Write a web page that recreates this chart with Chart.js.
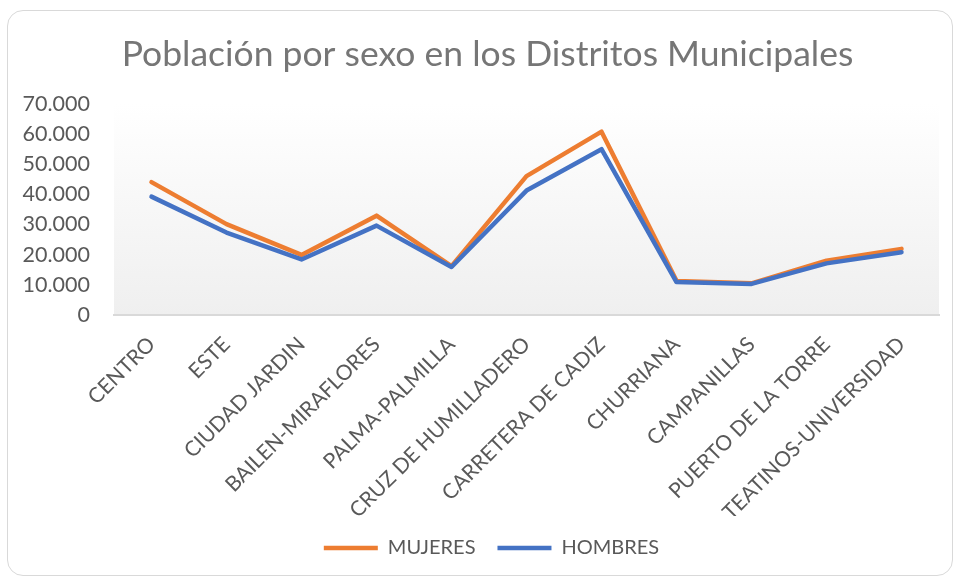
<!DOCTYPE html>
<html>
<head>
<meta charset="utf-8">
<script src="https://cdn.jsdelivr.net/npm/chart.js@4/dist/chart.umd.min.js"></script>
<style>
    body { margin: 0; background: #ffffff; }
    #frame {
        position: absolute; left: 7px; top: 10px;
        width: 944px; height: 564px;
        border: 1px solid #d9d9d9; border-radius: 16px;
    }
    #wrap { position: absolute; left: 0; top: 0; width: 956px; height: 579px; }
</style>
</head>
<body>
<div id="frame"></div>
<div id="wrap"><canvas id="chart" width="956" height="579"></canvas></div>
<script>
// Chart data
const distritos = [
    'CENTRO', 'ESTE', 'CIUDAD JARDIN', 'BAILEN-MIRAFLORES', 'PALMA-PALMILLA',
    'CRUZ DE HUMILLADERO', 'CARRETERA DE CADIZ', 'CHURRIANA', 'CAMPANILLAS',
    'PUERTO DE LA TORRE', 'TEATINOS-UNIVERSIDAD'
];
const mujeres = [44000, 30100, 19900, 32900, 16200, 46000, 60700, 11300, 10500, 18000, 21900];
const hombres = [39200, 27300, 18400, 29600, 15900, 41200, 54900, 10900, 10300, 17100, 20800];
const yTicks = { min: 0, max: 70000, step: 10000 };

const colors = { mujeres: '#ED7D31', hombres: '#4472C4', text: '#595959', title: '#767676' };
const fontFamily = 'Lato, "Open Sans", sans-serif';

// thousands separator with a dot
function formatMiles(v) {
    return String(v).replace(/\B(?=(\d{3})+(?!\d))/g, '.');
}

// plot area gradient, white at top to light grey at the bottom
const plotBackground = {
    id: 'plotBackground',
    beforeDraw(chart) {
        const { ctx, chartArea: a } = chart;
        const g = ctx.createLinearGradient(0, a.top, 0, a.bottom);
        g.addColorStop(0, '#ffffff');
        g.addColorStop(1, '#efefef');
        ctx.save();
        ctx.fillStyle = g;
        ctx.fillRect(a.left, a.top, a.right - a.left, a.bottom - a.top);
        ctx.restore();
    }
};

// title and legend are centred on the whole frame, not on the plot
const shiftBlocks = {
    id: 'shiftBlocks',
    afterLayout(chart) {
        if (chart.titleBlock) {
            chart.titleBlock.left += 18;
            chart.titleBlock.right += 18;
        }
        if (chart.legend) {
            chart.legend.left += 22;
            chart.legend.right += 22;
        }
    }
};

const padBottom = 11;

new Chart(document.getElementById('chart'), {
    type: 'line',
    data: {
        labels: distritos,
        datasets: [
            {
                label: 'MUJERES',
                data: mujeres,
                borderColor: colors.mujeres,
                backgroundColor: colors.mujeres,
                borderWidth: 4.5,
                order: 1
            },
            {
                label: 'HOMBRES',
                data: hombres,
                borderColor: colors.hombres,
                backgroundColor: colors.hombres,
                borderWidth: 4.5,
                order: 0
            }
        ]
    },
    options: {
        responsive: false,
        animation: false,
        devicePixelRatio: 1,
        layout: { padding: { top: 0, left: 0, right: 17, bottom: padBottom } },
        elements: {
            line: { tension: 0, borderJoinStyle: 'round', borderCapStyle: 'round', fill: false },
            point: { radius: 0, hoverRadius: 0 }
        },
        plugins: {
            title: {
                display: true,
                text: 'Población por sexo en los Distritos Municipales',
                color: colors.title,
                font: { family: fontFamily, size: 35.5, weight: 'normal' },
                padding: { top: 33, bottom: 28 }
            },
            legend: {
                display: true,
                position: 'bottom',
                labels: {
                    usePointStyle: true,
                    pointStyle: 'line',
                    pointStyleWidth: 54,
                    boxWidth: 54,
                    padding: 22,
                    color: colors.text,
                    font: { family: fontFamily, size: 20 },
                    sort: (a, b) => a.datasetIndex - b.datasetIndex
                }
            },
            tooltip: { enabled: false }
        },
        scales: {
            x: {
                offset: true,
                grid: { display: false, drawTicks: false },
                border: { display: true, color: '#d9d9d9', width: 2 },
                ticks: {
                    minRotation: 45,
                    maxRotation: 45,
                    padding: 17,
                    color: colors.text,
                    font: { family: fontFamily, size: 21 }
                },
                afterFit(s) {
                    s.height = 579 - padBottom - s.chart.legend.height - 315;
                }
            },
            y: {
                min: yTicks.min,
                max: yTicks.max,
                grid: { display: false, drawTicks: false },
                border: { display: false },
                ticks: {
                    stepSize: yTicks.step,
                    padding: 24,
                    color: colors.text,
                    font: { family: fontFamily, size: 21.5 },
                    callback: v => formatMiles(v)
                },
                afterFit(s) {
                    s.width = 114;
                }
            }
        }
    },
    plugins: [plotBackground, shiftBlocks]
});
</script>
</body>
</html>
